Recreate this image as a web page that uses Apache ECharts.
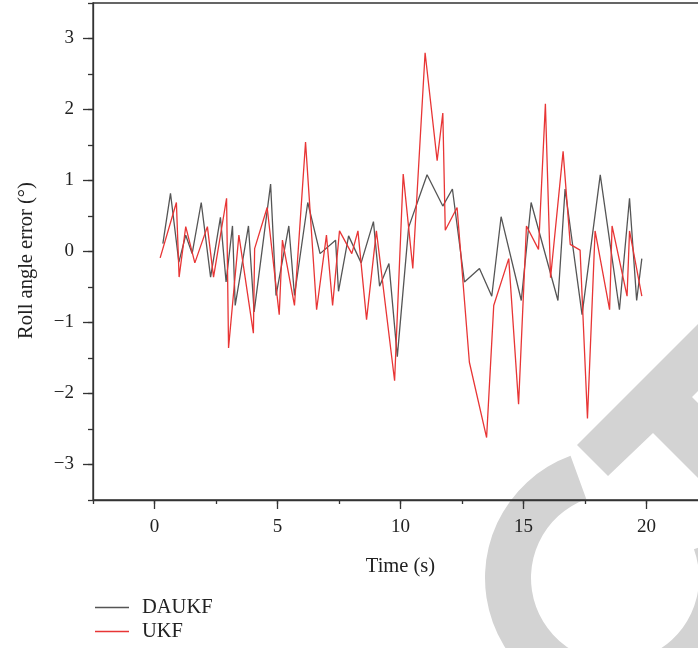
<!DOCTYPE html>
<html>
<head>
<meta charset="utf-8">
<script src="https://cdn.jsdelivr.net/npm/echarts@6/dist/echarts.min.js"></script>
<style>
  html, body { margin: 0; padding: 0; background: #fff; }
  #chart { width: 698px; height: 648px; }
</style>
</head>
<body>
<div id="chart"></div>
<script>
// DAUKF samples (time in s, roll angle error in deg)
var dauTime = [0.34, 0.65, 0.99, 1.27, 1.53, 1.9, 2.28, 2.68, 2.91, 3.17, 3.28, 3.82, 4.05, 4.72, 4.94,
  5.46, 5.69, 6.23, 6.73, 7.36, 7.48, 7.89, 8.4, 8.9, 9.15, 9.53, 9.87, 10.33, 11.08, 11.72,
  12.11, 12.6, 13.21, 13.71, 14.09, 14.91, 15.31, 16.4, 16.69, 17.38, 18.12, 18.9, 19.31, 19.6, 19.81];
var dauValue = [0.11, 0.82, -0.15, 0.23, -0.03, 0.69, -0.36, 0.48, -0.43, 0.36, -0.76, 0.36, -0.85, 0.95, -0.62,
  0.36, -0.62, 0.69, -0.03, 0.16, -0.56, 0.22, -0.16, 0.42, -0.49, -0.17, -1.48, 0.34, 1.08, 0.64,
  0.88, -0.43, -0.24, -0.63, 0.49, -0.69, 0.69, -0.69, 0.88, -0.89, 1.08, -0.82, 0.75, -0.69, -0.1];

// UKF samples
var ukfTime = [0.23, 0.89, 1.0, 1.27, 1.64, 2.15, 2.4, 2.93, 3.01, 3.43, 4.02, 4.07, 4.58, 5.07, 5.2,
  5.69, 6.14, 6.59, 6.99, 7.24, 7.52, 8.02, 8.27, 8.62, 9.02, 9.76, 10.11, 10.5, 11.0, 11.49,
  11.72, 11.82, 12.3, 12.8, 13.5, 13.79, 14.4, 14.8, 15.12, 15.61, 15.89, 16.1, 16.61, 16.9, 17.3,
  17.6, 17.91, 18.5, 18.6, 19.21, 19.31, 19.81];
var ukfValue = [-0.09, 0.69, -0.36, 0.35, -0.16, 0.35, -0.36, 0.75, -1.36, 0.23, -1.15, 0.04, 0.62, -0.89, 0.16,
  -0.76, 1.54, -0.82, 0.23, -0.76, 0.29, -0.03, 0.29, -0.96, 0.29, -1.82, 1.09, -0.24, 2.8, 1.28,
  1.95, 0.3, 0.62, -1.56, -2.62, -0.76, -0.1, -2.15, 0.36, 0.03, 2.08, -0.37, 1.41, 0.1, 0.02,
  -2.35, 0.29, -0.82, 0.36, -0.63, 0.29, -0.63];

var seriesNames = ["DAUKF", "UKF"];
var xTicks = [0, 5, 10, 15, 20];
var yTicks = [-3, -2, -1, 0, 1, 2, 3];

function zip(xs, ys) {
  return xs.map(function (x, i) { return [x, ys[i]]; });
}

function fmt(v) {
  return v < 0 ? "\u2212" + Math.abs(v) : String(v);
}

var font = "Liberation Serif";
var axisColor = "#333";
var textColor = "#222";

var chart = echarts.init(document.getElementById("chart"));

var option = {
  animation: false,
  backgroundColor: "#fff",
  textStyle: { fontFamily: font },
  grid: [
    // main plot area (minor ticks, lines, frame); right side runs past the page edge
    { left: 93, width: 615, top: 3, height: 497, outerBoundsMode: "none", containLabel: false,
      show: true, borderColor: axisColor, borderWidth: 1.3 },
    // same scale, shifted so that major ticks start at 0 / -3
    { left: 154.5, width: 553.5, top: 38.5, height: 426, outerBoundsMode: "none", containLabel: false }
  ],
  xAxis: [
    {
      gridIndex: 0, type: "value", min: -2.5, max: 22.5, interval: 2.5,
      axisLine: { show: true, onZero: false, lineStyle: { color: axisColor, width: 1.3 } },
      axisTick: { show: true, length: 4, lineStyle: { color: axisColor, width: 1.3 } },
      axisLabel: { show: false },
      splitLine: { show: false },
      name: "Time (s)", nameLocation: "middle", nameGap: 56,
      nameTextStyle: { fontFamily: font, fontSize: 20.5, color: textColor }
    },
    {
      gridIndex: 1, type: "value", min: 0, max: 22.5, interval: 5, offset: 35.5,
      axisLine: { show: false, onZero: false },
      axisTick: { show: true, length: 9, lineStyle: { color: axisColor, width: 1.3 } },
      axisLabel: {
        margin: 18, fontFamily: font, fontSize: 19, color: textColor,
        formatter: function (v) { return xTicks.indexOf(v) >= 0 ? fmt(v) : ""; }
      },
      splitLine: { show: false }
    }
  ],
  yAxis: [
    {
      gridIndex: 0, type: "value", min: -3.5, max: 3.5, interval: 0.5,
      axisLine: { show: true, onZero: false, lineStyle: { color: axisColor, width: 1.3 } },
      axisTick: { show: true, length: 5, lineStyle: { color: axisColor, width: 1.3 } },
      axisLabel: { show: false },
      splitLine: { show: false },
      name: "Roll angle error (\u00b0)", nameLocation: "middle", nameGap: 56,
      nameTextStyle: { fontFamily: font, fontSize: 20.5, color: textColor, padding: [0, 18, 0, 0] }
    },
    {
      gridIndex: 1, type: "value", min: -3, max: 3, interval: 1, offset: 61.5,
      axisLine: { show: false, onZero: false },
      axisTick: { show: true, length: 10, lineStyle: { color: axisColor, width: 1.3 } },
      axisLabel: {
        margin: 19, fontFamily: font, fontSize: 19, color: textColor,
        formatter: function (v) { return yTicks.indexOf(v) >= 0 ? fmt(v) : ""; }
      },
      splitLine: { show: false }
    }
  ],
  legend: {
    orient: "vertical",
    left: 95,
    top: 597,
    padding: 0,
    icon: "path://M0 0 H34 V1.3 H0 Z",
    itemWidth: 34,
    itemHeight: 14,
    itemGap: 3,
    textStyle: { fontFamily: font, fontSize: 20.5, color: textColor, padding: [0, 0, 0, 8] },
    data: seriesNames
  },
  graphic: [
    {
      type: "sector", z: -10, silent: true,
      shape: { cx: 615, cy: 578, r: 130, r0: 84, startAngle: -20 * Math.PI / 180, endAngle: 250 * Math.PI / 180, clockwise: true },
      style: { fill: "#d3d3d3" }
    },
    {
      type: "polygon", z: -10, silent: true,
      shape: { points: [[577, 445], [712, 310], [712, 377], [692, 397], [712, 417], [712, 492], [653, 433], [608, 476]] },
      style: { fill: "#d3d3d3" }
    }
  ],
  series: [
    {
      name: seriesNames[0], type: "line", xAxisIndex: 0, yAxisIndex: 0,
      data: zip(dauTime, dauValue),
      symbol: "none",
      lineStyle: { color: "#555555", width: 1.3 },
      itemStyle: { color: "#555555" }
    },
    {
      name: seriesNames[1], type: "line", xAxisIndex: 0, yAxisIndex: 0,
      data: zip(ukfTime, ukfValue),
      symbol: "none",
      lineStyle: { color: "#e83535", width: 1.3 },
      itemStyle: { color: "#e83535" }
    }
  ]
};

chart.setOption(option);
</script>
</body>
</html>
